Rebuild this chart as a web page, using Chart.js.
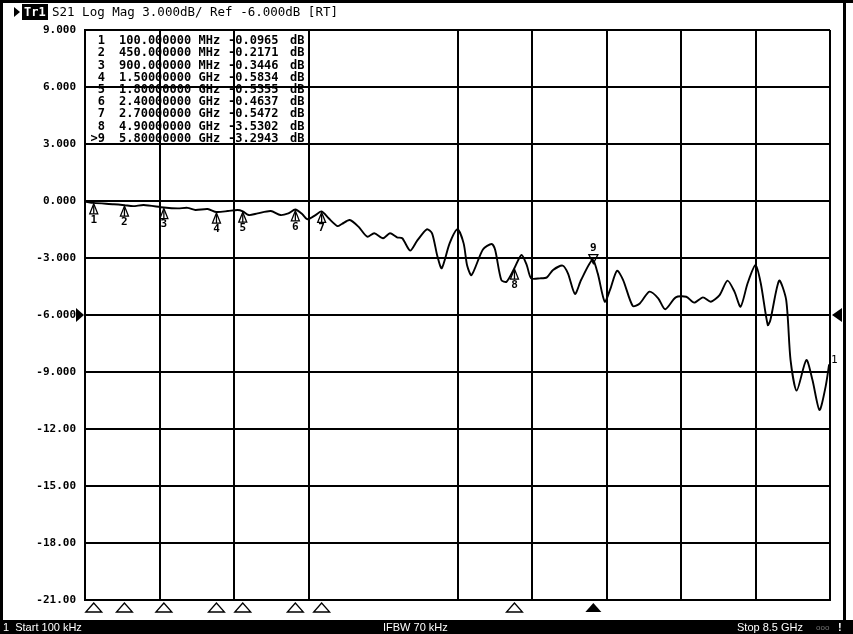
<!DOCTYPE html>
<html>
<head>
<meta charset="utf-8">
<title>S21 Log Mag</title>
<script src="https://cdn.jsdelivr.net/npm/chart.js@4.4.1/dist/chart.umd.min.js"></script>
<style>
  html, body { margin: 0; padding: 0; background: #fff; }
  canvas { display: block; }
</style>
</head>
<body>
<canvas id="trace" width="853" height="634"></canvas>
<script>
// Trace 1, S21 log magnitude (frequency in GHz, level in dB)
const freqGHz = [0.0001, 0.10, 0.33, 0.45, 0.55, 0.67, 0.90, 1.06, 1.17, 1.26, 1.40, 1.50, 1.63, 1.74, 1.80, 1.87,
  1.97, 2.12, 2.23, 2.32, 2.40, 2.48, 2.54, 2.63, 2.70, 2.78, 2.88, 2.93, 3.02, 3.12, 3.22, 3.30, 3.40, 3.48,
  3.56, 3.62, 3.71, 3.79, 3.90, 3.96, 4.02, 4.07, 4.16, 4.25, 4.32, 4.36, 4.41, 4.54, 4.64, 4.68, 4.75, 4.81,
  4.90, 4.98, 5.04, 5.09, 5.19, 5.27, 5.34, 5.45, 5.51, 5.59, 5.66, 5.79, 5.85, 5.93, 5.99, 6.07, 6.14, 6.25,
  6.33, 6.44, 6.54, 6.62, 6.74, 6.86, 6.95, 7.05, 7.14, 7.24, 7.33, 7.41, 7.48, 7.56, 7.65, 7.71, 7.79, 7.82,
  7.92, 8.00, 8.05, 8.12, 8.23, 8.30, 8.38, 8.45, 8.49];
const levelDB = [-0.03, -0.10, -0.17, -0.22, -0.27, -0.21, -0.34, -0.39, -0.36, -0.47, -0.42, -0.58, -0.53, -0.47, -0.54, -0.74,
  -0.65, -0.53, -0.74, -0.65, -0.45, -0.70, -0.96, -0.74, -0.55, -0.91, -1.32, -1.21, -1.00, -1.35, -1.88, -1.70, -1.96, -1.70,
  -1.91, -1.96, -2.61, -2.09, -1.49, -1.70, -2.90, -3.54, -2.23, -1.49, -2.23, -3.40, -3.90, -2.55, -2.26, -2.58, -4.16, -4.25,
  -3.53, -2.84, -3.37, -4.07, -4.07, -4.02, -3.63, -3.40, -3.81, -4.89, -4.16, -3.10, -3.81, -5.30, -4.68, -3.67, -4.16, -5.53,
  -5.39, -4.77, -5.12, -5.70, -5.07, -5.04, -5.35, -5.07, -5.30, -4.95, -4.19, -4.77, -5.56, -4.33, -3.37, -4.33, -6.53, -6.26,
  -4.19, -5.21, -8.37, -9.98, -8.37, -9.42, -11.00, -9.77, -8.60];

// Marker table
const markerNames = ["1", "2", "3", "4", "5", "6", "7", "8", "9"];
const markerFreqGHz = [0.1, 0.45, 0.9, 1.5, 1.8, 2.4, 2.7, 4.9, 5.8];
const markerFreqText = ["100.000000 MHz", "450.000000 MHz", "900.000000 MHz", "1.50000000 GHz", "1.80000000 GHz",
  "2.40000000 GHz", "2.70000000 GHz", "4.90000000 GHz", "5.80000000 GHz"];
const markerDB = [-0.0965, -0.2171, -0.3446, -0.5834, -0.5355, -0.4637, -0.5472, -3.5302, -3.2943];
const activeMarker = 8;

// Axes
const startGHz = 0.0001;
const stopGHz = 8.5;
const refLevelDB = -6;
const yTickValues = [-21, -18, -15, -12, -9, -6, -3, 0, 3, 6, 9];
const yTickLabels = ["-21.00", "-18.00", "-15.00", "-12.00", "-9.000", "-6.000", "-3.000", "0.000", "3.000", "6.000", "9.000"];

const MONO = "'DejaVu Sans Mono', monospace";

function triangle(ctx, x, y, w, h, dir, filled) {
  // dir: "up" apex at (x,y) body below, "down" apex at (x,y) body above, "right"/"left" apex at (x,y)
  ctx.beginPath();
  if (dir === "up") { ctx.moveTo(x, y); ctx.lineTo(x - w, y + h); ctx.lineTo(x + w, y + h); }
  if (dir === "down") { ctx.moveTo(x, y); ctx.lineTo(x - w, y - h); ctx.lineTo(x + w, y - h); }
  if (dir === "right") { ctx.moveTo(x, y); ctx.lineTo(x - h, y - w); ctx.lineTo(x - h, y + w); }
  if (dir === "left") { ctx.moveTo(x, y); ctx.lineTo(x + h, y - w); ctx.lineTo(x + h, y + w); }
  ctx.closePath();
  if (filled) ctx.fill(); else ctx.stroke();
}

const vnaOverlay = {
  id: "vnaOverlay",
  afterDraw(chart) {
    const ctx = chart.ctx;
    const xs = chart.scales.x, ys = chart.scales.y;
    const area = chart.chartArea;
    ctx.save();
    ctx.fillStyle = "#000";
    ctx.strokeStyle = "#000";

    // frame
    ctx.fillRect(0, 0, chart.width, 3);
    ctx.fillRect(0, 0, 3, chart.height);
    ctx.fillRect(843, 0, 3, chart.height);
    ctx.fillRect(0, 620, chart.width, 14);

    // header
    triangle(ctx, 20, 12, 5, 6, "right", true);
    ctx.fillRect(22, 4, 26, 16);
    ctx.font = "bold 12px " + MONO;
    ctx.textBaseline = "middle";
    ctx.fillStyle = "#fff";
    ctx.fillText("Tr1", 24, 12.5);
    ctx.fillStyle = "#000";
    ctx.font = "12.5px " + MONO;
    ctx.fillText("S21 Log Mag 3.000dB/ Ref -6.000dB [RT]", 52, 12.5);

    // reference level arrows
    const yRef = ys.getPixelForValue(refLevelDB);
    triangle(ctx, area.left - 1, yRef, 7, 8, "right", true);
    triangle(ctx, area.right + 2, yRef, 7, 10, "left", true);

    // trace number at the right edge
    ctx.font = "11px " + MONO;
    ctx.fillText("1", area.right + 1, ys.getPixelForValue(levelDB[levelDB.length - 1]) - 4);

    // marker table
    ctx.font = "bold 12px " + MONO;
    markerNames.forEach((name, i) => {
      const y = 41 + i * 12.2;
      ctx.textAlign = "right";
      ctx.fillText((i === activeMarker ? ">" : "") + name, 105, y);
      ctx.textAlign = "left";
      ctx.fillText(markerFreqText[i], 119, y);
      ctx.fillText(markerDB[i].toFixed(4), 228, y);
      ctx.fillText("dB", 290, y);
    });

    // markers on the trace and along the bottom
    ctx.lineWidth = 1.3;
    ctx.textAlign = "center";
    ctx.font = "bold 11px " + MONO;
    markerFreqGHz.forEach((f, i) => {
      const x = xs.getPixelForValue(f);
      const y = ys.getPixelForValue(markerDB[i]);
      if (i === activeMarker) {
        triangle(ctx, x, y, 4.5, 9, "down", false);
        ctx.fillText(markerNames[i], x, y - 15);
        triangle(ctx, x, area.bottom + 3, 8, 9, "up", true);
      } else {
        triangle(ctx, x, y + 1, 4, 10, "up", false);
        ctx.beginPath();
        ctx.moveTo(x, y + 3);
        ctx.lineTo(x, y + 11);
        ctx.stroke();
        ctx.fillText(markerNames[i], x, y + 17);
        triangle(ctx, x, area.bottom + 3, 8, 9, "up", false);
      }
    });

    // status bar
    ctx.fillStyle = "#fff";
    ctx.textAlign = "left";
    ctx.font = "11px 'Liberation Sans', sans-serif";
    ctx.fillText("1  Start 100 kHz", 3, 627.5);
    ctx.fillText("IFBW 70 kHz", 383, 627.5);
    ctx.fillText("Stop 8.5 GHz", 737, 627.5);
    ctx.fillStyle = "#777";
    ctx.font = "8px 'Liberation Sans', sans-serif";
    ctx.fillText("ooo", 816, 627.5);
    ctx.fillStyle = "#fff";
    ctx.font = "bold 11px 'Liberation Sans', sans-serif";
    ctx.fillText("!", 838, 627.5);
    ctx.restore();
  }
};

document.addEventListener("DOMContentLoaded", () => {
  const ctx = document.getElementById("trace").getContext("2d");
  new Chart(ctx, {
    type: "line",
    data: {
      datasets: [
        {
          label: "Tr1 S21",
          data: freqGHz.map((f, i) => ({ x: f, y: levelDB[i] })),
          borderColor: "#000",
          borderWidth: 1.9,
          pointRadius: 0,
          tension: 0.25,
          fill: false,
        },
      ],
    },
    options: {
      responsive: false,
      animation: false,
      events: [],
      layout: { padding: { left: 0, right: 23, top: 30, bottom: 34 } },
      plugins: { legend: { display: false }, tooltip: { enabled: false } },
      scales: {
        x: {
          type: "linear",
          min: startGHz,
          max: stopGHz,
          afterBuildTicks: (s) => {
            const t = [];
            for (let k = 0; k <= 10; k++) t.push({ value: startGHz + (k * (stopGHz - startGHz)) / 10 });
            s.ticks = t;
          },
          afterFit: (s) => { s.height = 0; },
          ticks: { display: false },
          grid: {
            color: (c) => (c.index === 4 ? "rgba(0,0,0,0)" : "#000"),
            lineWidth: 2,
            drawTicks: false,
          },
          border: { display: true, color: "#000", width: 2 },
        },
        y: {
          min: -21,
          max: 9,
          afterBuildTicks: (s) => { s.ticks = yTickValues.map((v) => ({ value: v })); },
          afterFit: (s) => { s.width = 85; },
          ticks: {
            color: "#000",
            padding: 9,
            font: { family: "DejaVu Sans Mono", size: 11, weight: "bold" },
            callback: (v) => yTickLabels[yTickValues.indexOf(v)],
          },
          grid: { color: "#000", lineWidth: 2, drawTicks: false },
          border: { display: true, color: "#000", width: 2 },
        },
      },
    },
    plugins: [vnaOverlay],
  });
});
</script>
</body>
</html>
